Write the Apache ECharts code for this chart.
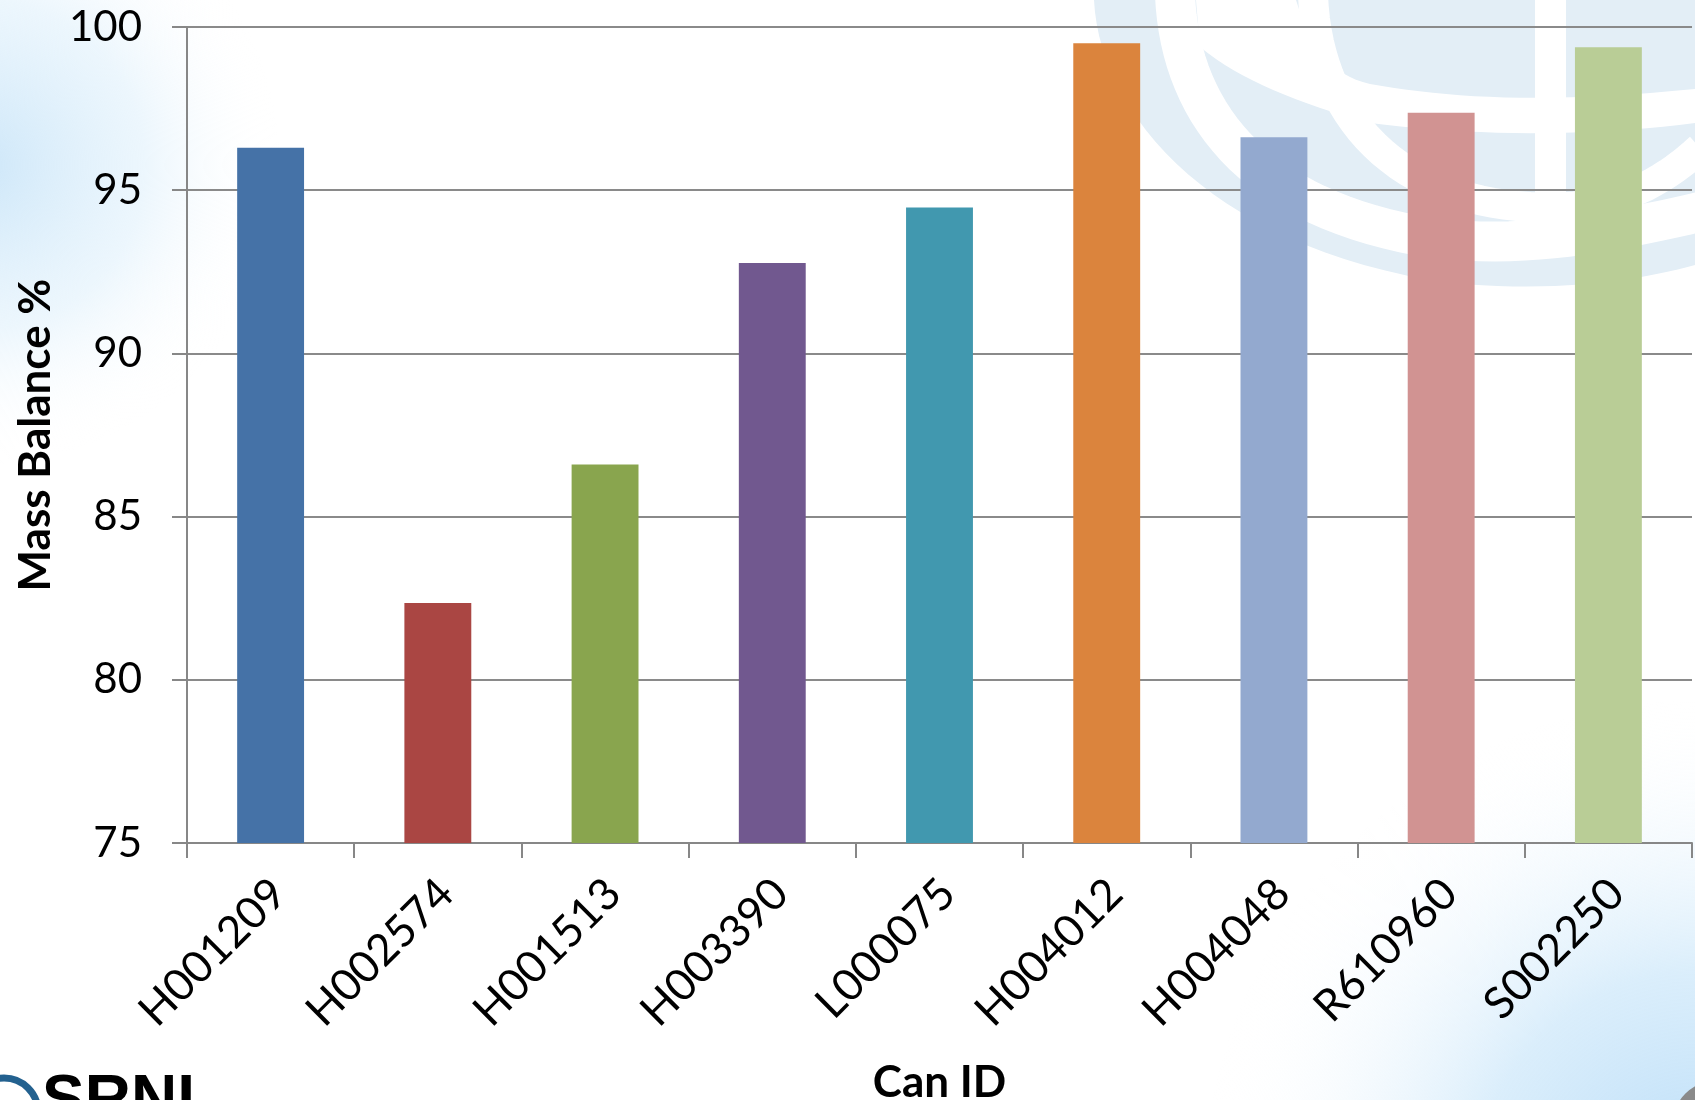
<!DOCTYPE html>
<html>
<head>
<meta charset="utf-8">
<title>Mass Balance by Can ID</title>
<script src="https://cdn.jsdelivr.net/npm/echarts@6/dist/echarts.min.js"></script>
<style>
  html, body { margin: 0; padding: 0; background: #ffffff; }
  #chart { width: 1695px; height: 1100px; }
</style>
</head>
<body>
<div id="chart"></div>
<script>
// Can identifiers along the x axis
const categories = ['H001209', 'H002574', 'H001513', 'H003390', 'L000075', 'H004012', 'H004048', 'R610960', 'S002250'];
// Mass balance for each can, in percent
const massBalance = [96.3, 82.35, 86.6, 92.77, 94.47, 99.5, 96.62, 97.37, 99.38];
// One fill per bar
const barColors = ['#4572A7', '#AA4643', '#89A54E', '#71588F', '#4198AF', '#DB843D', '#93A9CF', '#D19392', '#B9CD96'];
// Value axis range and step
const yMin = 75;
const yMax = 100;
const yStep = 5;

const FONT = 'Lato, "Open Sans", sans-serif';
const AXIS_GREY = '#878787';
const WATERMARK = '#e3eef6';

// Sample a cubic Bezier into a list of points (used for the decorative backdrop)
function cubic(p0, p1, p2, p3, n) {
  const pts = [];
  for (let i = 0; i <= n; i++) {
    const t = i / n, u = 1 - t;
    pts.push([
      u * u * u * p0[0] + 3 * u * u * t * p1[0] + 3 * u * t * t * p2[0] + t * t * t * p3[0],
      u * u * u * p0[1] + 3 * u * u * t * p1[1] + 3 * u * t * t * p2[1] + t * t * t * p3[1]
    ]);
  }
  return pts;
}
function chain(segs) {
  let out = [];
  segs.forEach((s, i) => { out = out.concat(i === 0 ? s : s.slice(1)); });
  return out;
}

const globeOutline = chain([
  cubic([1094, 0], [1100, 120], [1220, 250], [1450, 283], 30),
  cubic([1450, 283], [1560, 293], [1640, 280], [1695, 265], 20)
]).concat([[1695, 0]]);

const ringA = chain([
  cubic([1175, -5], [1180, 110], [1250, 205], [1420, 236], 30),
  cubic([1420, 236], [1520, 252], [1620, 230], [1700, 212], 20)
]);

const ringB = chain([
  cubic([1313, -5], [1318, 120], [1400, 200], [1530, 207], 30),
  cubic([1530, 207], [1610, 212], [1660, 185], [1700, 148], 20)
]);

const latitude = chain([
  cubic([1296, 0], [1310, 45], [1330, 75], [1370, 84], 16),
  cubic([1370, 84], [1450, 98], [1540, 104], [1695, 89], 20)
]).concat([[1695, 123]]).concat(chain([
  cubic([1695, 123], [1590, 137], [1470, 136], [1370, 123], 20),
  cubic([1370, 123], [1300, 104], [1240, 80], [1200, 47], 16)
])).concat([[1196, 0]]);

// Slide backdrop: sky tint in two corners, faint globe watermark, logo strip
const backdrop = [
  {
    type: 'rect', z: -100, silent: true,
    shape: { x: -200, y: -150, width: 600, height: 700 },
    style: {
      fill: new echarts.graphic.RadialGradient(0.3, 0.45, 0.5, [
        { offset: 0, color: 'rgba(200,228,248,0.9)' },
        { offset: 0.55, color: 'rgba(218,238,251,0.5)' },
        { offset: 1, color: 'rgba(255,255,255,0)' }
      ])
    }
  },
  {
    type: 'rect', z: -100, silent: true,
    shape: { x: 1050, y: 700, width: 900, height: 900 },
    style: {
      fill: new echarts.graphic.RadialGradient(0.72, 0.55, 0.55, [
        { offset: 0, color: 'rgba(186,221,248,1)' },
        { offset: 0.45, color: 'rgba(206,232,250,0.75)' },
        { offset: 1, color: 'rgba(255,255,255,0)' }
      ])
    }
  },
  { type: 'polygon', z: -90, silent: true, shape: { points: globeOutline }, style: { fill: WATERMARK } },
  { type: 'polyline', z: -89, silent: true, shape: { points: ringA }, style: { fill: null, stroke: '#ffffff', lineWidth: 40 } },
  { type: 'polyline', z: -89, silent: true, shape: { points: ringB }, style: { fill: null, stroke: '#ffffff', lineWidth: 30 } },
  { type: 'polygon', z: -89, silent: true, shape: { points: latitude }, style: { fill: '#ffffff' } },
  { type: 'rect', z: -89, silent: true, shape: { x: 1535, y: 0, width: 31, height: 212 }, style: { fill: '#ffffff' } },
  // logo at the lower left edge
  { type: 'circle', z: -80, silent: true, shape: { cx: 4, cy: 1112, r: 34 }, style: { fill: null, stroke: '#23618f', lineWidth: 7 } },
  {
    type: 'text', z: -80, silent: true,
    style: {
      text: 'SRNL', x: 42, y: 1070,
      font: 'bold 64px "Liberation Sans", Arial, sans-serif',
      fill: '#000000', textVerticalAlign: 'top'
    }
  },
  { type: 'circle', z: -80, silent: true, shape: { cx: 1718, cy: 1126, r: 46 }, style: { fill: '#8a8a8a' } }
];

const chart = echarts.init(document.getElementById('chart'), null, { renderer: 'canvas' });

const option = {
  backgroundColor: 'transparent',
  animation: false,
  graphic: backdrop,
  grid: { left: 187, right: 3, top: 27, bottom: 257, containLabel: false, outerBoundsMode: 'none' },
  xAxis: {
    type: 'category',
    data: categories,
    boundaryGap: true,
    name: 'Can ID',
    nameLocation: 'middle',
    nameGap: 218,
    nameTextStyle: { fontFamily: FONT, fontSize: 44, fontWeight: 'bold', color: '#000' },
    axisLine: { show: true, lineStyle: { color: AXIS_GREY, width: 2 } },
    axisTick: { show: true, alignWithLabel: false, length: 15, lineStyle: { color: AXIS_GREY, width: 2 } },
    axisLabel: { interval: 0, rotate: 45, margin: 52, padding: [0, -12, 0, 0], fontFamily: FONT, fontSize: 44, color: '#000' },
    splitLine: { show: false }
  },
  yAxis: {
    type: 'value',
    min: yMin,
    max: yMax,
    interval: yStep,
    name: 'Mass Balance %',
    nameLocation: 'middle',
    nameRotate: 90,
    nameGap: 129,
    nameTextStyle: { fontFamily: FONT, fontSize: 44, fontWeight: 'bold', color: '#000' },
    axisLine: { show: true, lineStyle: { color: AXIS_GREY, width: 2 } },
    axisTick: { show: true, length: 15, lineStyle: { color: AXIS_GREY, width: 2 } },
    axisLabel: { margin: 45, fontFamily: FONT, fontSize: 42, color: '#000' },
    splitLine: { show: true, lineStyle: { color: '#8a8a8a', width: 2 } }
  },
  series: [{
    type: 'bar',
    barWidth: '40%',
    data: massBalance.map((v, i) => ({ value: v, itemStyle: { color: barColors[i] } })),
    z: 3
  }]
};

chart.setOption(option);
</script>
</body>
</html>
